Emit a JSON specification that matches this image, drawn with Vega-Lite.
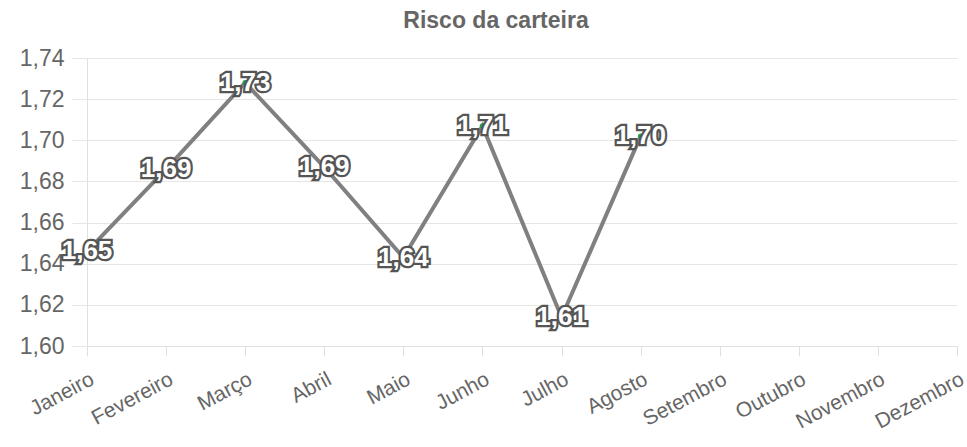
{
  "$schema": "https://vega.github.io/schema/vega-lite/v6.json",
  "width": 870,
  "height": 288,
  "autosize": "none",
  "padding": {"left": 87, "top": 58, "right": 10, "bottom": 101},
  "background": "white",
  "title": {
    "text": "Risco da carteira",
    "font": "Liberation Sans",
    "fontSize": 23,
    "fontWeight": "bold",
    "color": "#666666",
    "offset": 14,
    "dx": -26
  },
  "config": {
    "view": {"stroke": null},
    "font": "Liberation Sans"
  },
  "data": {
    "values": [
      {"mes": "Janeiro", "risco": 1.646},
      {"mes": "Fevereiro", "risco": 1.686},
      {"mes": "Março", "risco": 1.728},
      {"mes": "Abril", "risco": 1.687},
      {"mes": "Maio", "risco": 1.643},
      {"mes": "Junho", "risco": 1.707},
      {"mes": "Julho", "risco": 1.614},
      {"mes": "Agosto", "risco": 1.702},
      {"mes": "Setembro", "risco": null},
      {"mes": "Outubro", "risco": null},
      {"mes": "Novembro", "risco": null},
      {"mes": "Dezembro", "risco": null}
    ]
  },
  "transform": [
    {"calculate": "datum.risco == null ? '' : replace(format(datum.risco, '.2f'), '.', ',')", "as": "rotulo"}
  ],
  "encoding": {
    "x": {
      "field": "mes",
      "type": "ordinal",
      "sort": null,
      "scale": {"type": "point", "padding": 0, "domain": ["Janeiro", "Fevereiro", "Março", "Abril", "Maio", "Junho", "Julho", "Agosto", "Setembro", "Outubro", "Novembro", "Dezembro"]},
      "axis": {
        "title": null,
        "labelAngle": -28,
        "labelAlign": "right",
        "labelBaseline": "top",
        "labelFontSize": 21,
        "labelColor": "#666666",
        "labelPadding": 12,
        "tickSize": 10,
        "tickColor": "#e0e0e0",
        "domainColor": "#e0e0e0",
        "grid": false
      }
    },
    "y": {
      "field": "risco",
      "type": "quantitative",
      "scale": {"domain": [1.6, 1.74], "nice": false, "zero": false},
      "axis": {
        "title": null,
        "values": [1.6, 1.62, 1.64, 1.66, 1.68, 1.7, 1.72, 1.74],
        "labelExpr": "replace(format(datum.value, '.2f'), '.', ',')",
        "labelFontSize": 23,
        "labelColor": "#666666",
        "labelPadding": 8,
        "tickSize": 15,
        "tickColor": "#e6e6e6",
        "gridColor": "#e6e6e6",
        "domainColor": "#e0e0e0"
      }
    }
  },
  "layer": [
    {
      "mark": {"type": "line", "color": "#808080", "strokeWidth": 4},
      "transform": [{"filter": "datum.risco != null"}]
    },
    {
      "mark": {"type": "point", "filled": true, "color": "#2e9e4a", "size": 30, "opacity": 1},
      "transform": [{"filter": "datum.risco != null"}]
    },
    {
      "mark": {"type": "text", "font": "Liberation Sans", "fontSize": 26, "fontWeight": "bold", "stroke": "#555555", "strokeWidth": 4.5, "fill": "#555555", "align": "center", "baseline": "middle"},
      "transform": [{"filter": "datum.risco != null"}],
      "encoding": {"text": {"field": "rotulo"}}
    },
    {
      "mark": {"type": "text", "font": "Liberation Sans", "fontSize": 26, "fontWeight": "bold", "fill": "#ffffff", "align": "center", "baseline": "middle"},
      "transform": [{"filter": "datum.risco != null"}],
      "encoding": {"text": {"field": "rotulo"}}
    }
  ]
}
